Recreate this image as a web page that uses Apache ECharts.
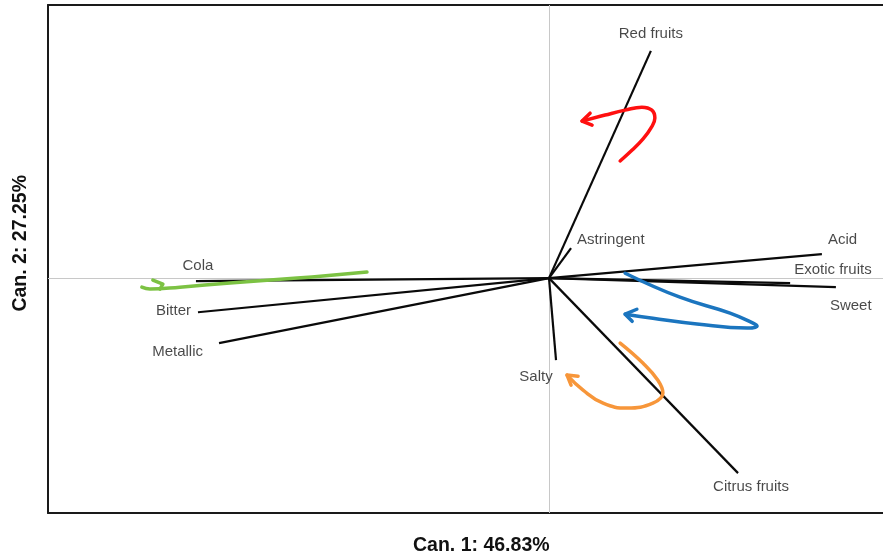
<!DOCTYPE html>
<html>
<head>
<meta charset="utf-8">
<style>
html,body{margin:0;padding:0;background:#fff;}
#chart{width:883px;height:556px;}
</style>
<script src="https://cdn.jsdelivr.net/npm/echarts@6/dist/echarts.min.js"></script>
</head>
<body>
<div id="chart"></div>
<script>
// Variable vectors (canonical loadings)
var varNames = ['Red fruits','Astringent','Acid','Exotic fruits','Sweet','Salty','Citrus fruits','Cola','Bitter','Metallic'];
var varX = [0.305, 0.066, 0.817, 0.722, 0.859, 0.021, 0.566, -1.057, -1.051, -0.988];
var varY = [0.832, 0.110, 0.088, -0.018, -0.033, -0.300, -0.714, -0.011, -0.125, -0.238];

// Hand-drawn annotation arrows (data units)
var redCurve = [[0.213,0.429],[0.249,0.469],[0.281,0.509],[0.305,0.549],[0.317,0.586],[0.308,0.615],[0.278,0.626],[0.228,0.615],[0.168,0.597],[0.099,0.575]];
var redHead = [[0.123,0.604],[0.099,0.575],[0.129,0.560]];
var blueCurve = [[0.228,0.018],[0.392,-0.070],[0.542,-0.128],[0.611,-0.165],[0.623,-0.176],[0.593,-0.183],[0.443,-0.168],[0.311,-0.147],[0.228,-0.132]];
var blueHead = [[0.263,-0.114],[0.228,-0.132],[0.249,-0.158]];
var orangeCurve = [[0.213,-0.238],[0.281,-0.311],[0.326,-0.374],[0.341,-0.421],[0.311,-0.458],[0.234,-0.476],[0.162,-0.458],[0.102,-0.410],[0.054,-0.355]];
var orangeHead = [[0.087,-0.359],[0.054,-0.355],[0.066,-0.392]];
var greenCurve = [[-0.545,0.022],[-0.754,0.000],[-0.955,-0.018],[-1.105,-0.033],[-1.195,-0.040],[-1.219,-0.033]];
var greenHead = [[-1.186,-0.007],[-1.156,-0.022],[-1.165,-0.040]];

var xTitle = 'Can. 1: 46.83%';
var yTitle = 'Can. 2: 27.25%';
var xRange = [-1.5, 1.0];
var yRange = [-0.86, 1.0];

// label placement styles
var labelStyle = {
  'Red fruits':   {align:'center', offset:[0,-17]},
  'Astringent':   {align:'left',   offset:[6,-8]},
  'Acid':         {align:'left',   offset:[6,-14]},
  'Exotic fruits':{align:'left',   offset:[4,-13]},
  'Sweet':        {align:'left',   offset:[-6,19]},
  'Salty':        {align:'center', offset:[-20,17]},
  'Citrus fruits':{align:'center', offset:[13,14]},
  'Cola':         {align:'center', offset:[2,-15]},
  'Bitter':       {align:'right',  offset:[-7,-1]},
  'Metallic':     {align:'right',  offset:[-16,9]}
};

var series = [];
varNames.forEach(function(n,i){
  var s = {
    type:'line', data:[[0,0],[varX[i],varY[i]]], symbol:'none', silent:true,
    lineStyle:{color:'#0a0a0a', width:2.2}, z:3
  };
  if (i === 0) {
    s.markLine = {silent:true, symbol:'none', animation:false, z:1,
      lineStyle:{color:'#c8c8c8', width:1, type:'solid'}, label:{show:false},
      data:[{xAxis:0},{yAxis:0}]};
  }
  series.push(s);
});
series.push({
  type:'scatter', symbolSize:1, itemStyle:{color:'transparent'}, z:5,
  data: varNames.map(function(n,i){
    var s = labelStyle[n];
    return {name:n, value:[varX[i],varY[i]], label:{show:true, position:'inside', align:s.align, verticalAlign:'middle', offset:s.offset, formatter:n, color:'#1a1a1a', fontSize:15, fontFamily:'Liberation Sans, Arial, sans-serif'}};
  })
});
function arrow(curve, head, color){
  series.push({type:'line', data:curve, symbol:'none', smooth:0.45, silent:true, z:4,
    lineStyle:{color:color, width:3.5, cap:'round', join:'round'}});
  series.push({type:'line', data:head, symbol:'none', silent:true, z:4,
    lineStyle:{color:color, width:3.5, cap:'round', join:'round'}});
}
arrow(redCurve, redHead, '#ff1010');
arrow(blueCurve, blueHead, '#1b75bf');
arrow(orangeCurve, orangeHead, '#f7963a');
arrow(greenCurve, greenHead, '#7cc243');

var frameLine = {show:true, onZero:false, lineStyle:{color:'#1a1a1a', width:2}};
function valAxis(range, pos){
  return {type:'value', min:range[0], max:range[1], position:pos,
    axisLine:frameLine, axisTick:{show:false}, axisLabel:{show:false}, splitLine:{show:false}};
}

var chart = echarts.init(document.getElementById('chart'), null, {renderer:'canvas'});
chart.setOption({
  animation:false,
  backgroundColor:'#fff',
  grid:{left:48, top:5, right:0, bottom:43, show:false},
  xAxis:[valAxis(xRange,'bottom'), valAxis(xRange,'top')],
  yAxis:[valAxis(yRange,'left')],
  graphic:[
    {type:'text', left:413, top:536, style:{text:xTitle, fill:'#111', font:'bold 19.5px "Liberation Sans", Arial, sans-serif'}},
    {type:'text', left:11, top:175, rotation:Math.PI/2, style:{text:yTitle, fill:'#111', font:'bold 19.5px "Liberation Sans", Arial, sans-serif'}}
  ],
  series:series
});
</script>
</body>
</html>
